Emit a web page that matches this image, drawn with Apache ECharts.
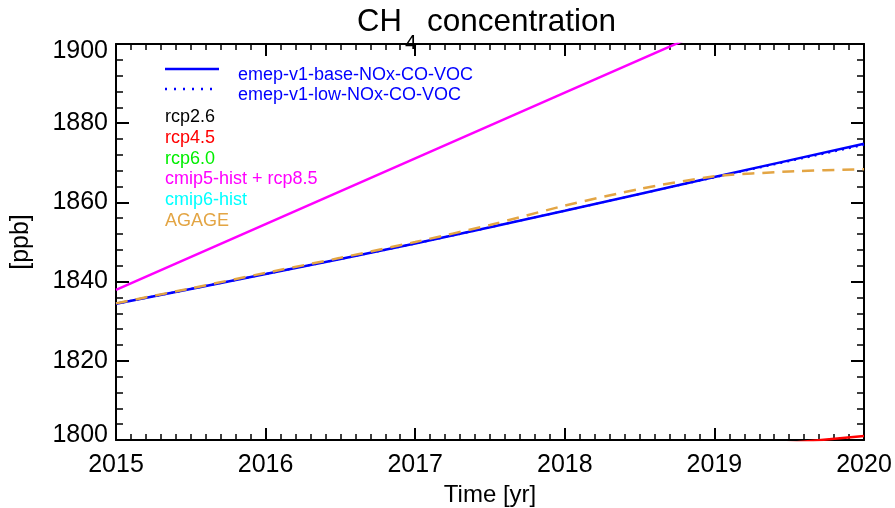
<!DOCTYPE html>
<html>
<head>
<meta charset="utf-8">
<title>CH4 concentration</title>
<script src="https://cdn.jsdelivr.net/npm/echarts@6.0.0/dist/echarts.min.js"></script>
<style>
  html, body { margin: 0; padding: 0; background: #fff; }
  #chart { width: 895px; height: 508px; }
</style>
</head>
<body>
<div id="chart"></div>
<script>
// yearly model output
const years = [2015, 2016, 2017, 2018, 2019, 2020]
const emepBase = [1834.4, 1841.9, 1849.6, 1857.9, 1866.4, 1874.8]
const emepLow = [1834.4, 1841.9, 1849.6, 1857.9, 1866.3, 1874.5]
const cmip5Rcp85 = [1837.9, 1854.5, 1871.1, 1887.7, 1904.3, 1920.9]
const rcp45 = [1787.0, 1789.5, 1792.0, 1794.7, 1797.5, 1801.0]

// AGAGE observations (half-yearly)
const agageYears = [2015, 2015.5, 2016, 2016.5, 2017, 2017.5, 2018, 2018.5, 2019, 2019.5, 2020]
const agage = [1834.5, 1838.3, 1842.2, 1846.0, 1850.0, 1854.3, 1859.2, 1863.4, 1866.6, 1867.8, 1868.4]

// legend rows without a visible line
const textOnlyNames = ['rcp2.6', 'rcp4.5', 'rcp6.0', 'cmip5-hist + rcp8.5', 'cmip6-hist', 'AGAGE']
const textOnlyColors = ['#000000', '#ff0000', '#00ee00', '#ff00ff', '#00ffff', '#e3a544']

const pairs = (xs, ys) => xs.map((x, i) => [x, ys[i]])

const FONT = 'Liberation Sans, Arial, sans-serif'
const BLUE = '#0000ff'

const chartInstance = echarts.init(document.getElementById('chart'))

const tickStyle = { color: '#000', width: 2 }

const baseX = {
  type: 'value',
  min: 2015,
  max: 2020,
  interval: 1,
  axisLine: { show: true, onZero: false, lineStyle: tickStyle },
  axisTick: { show: true, inside: true, length: 12, lineStyle: tickStyle },
  minorTick: { show: true, splitNumber: 10, length: 6, lineStyle: { color: '#000', width: 1.5 } },
  splitLine: { show: false },
  minorSplitLine: { show: false }
}

const baseY = {
  type: 'value',
  min: 1800,
  max: 1900,
  interval: 20,
  axisLine: { show: true, onZero: false, lineStyle: tickStyle },
  axisTick: { show: true, inside: true, length: 13, lineStyle: tickStyle },
  minorTick: { show: true, splitNumber: 5, length: 7, lineStyle: { color: '#000', width: 1.5 } },
  splitLine: { show: false },
  minorSplitLine: { show: false }
}

// end labels sit a little inside the box, like the IDL plot
const yLabelFormatter = (v) => {
  if (v === 1900) return '{hi|' + v + '}'
  if (v === 1800) return '{lo|' + v + '}'
  return String(v)
}

const legendGraphics = []
// line rows
legendGraphics.push({
  type: 'line', shape: { x1: 165, y1: 69, x2: 219, y2: 69 },
  style: { stroke: BLUE, lineWidth: 2.5 }
})
legendGraphics.push({
  type: 'line', shape: { x1: 165, y1: 89, x2: 219, y2: 89 },
  style: { stroke: BLUE, lineWidth: 2.5, lineDash: [2, 7] }
})
legendGraphics.push({
  type: 'text', x: 238, y: 75,
  style: { text: 'emep-v1-base-NOx-CO-VOC', fill: BLUE, font: '18px ' + FONT, verticalAlign: 'middle' }
})
legendGraphics.push({
  type: 'text', x: 238, y: 95,
  style: { text: 'emep-v1-low-NOx-CO-VOC', fill: BLUE, font: '18px ' + FONT, verticalAlign: 'middle' }
})
textOnlyNames.forEach((name, i) => {
  legendGraphics.push({
    type: 'text', x: 165, y: 117 + i * 20.8,
    style: { text: name, fill: textOnlyColors[i], font: '18px ' + FONT, verticalAlign: 'middle' }
  })
})

const option = {
  animation: false,
  backgroundColor: '#fff',
  textStyle: { fontFamily: FONT },
  grid: { left: 116, right: 31, top: 44, bottom: 68, outerBoundsMode: 'none', containLabel: false },
  xAxis: [
    Object.assign({}, baseX, {
      position: 'bottom',
      name: 'Time [yr]',
      nameLocation: 'middle',
      nameGap: 42,
      nameTextStyle: { fontSize: 24, color: '#000', fontFamily: FONT },
      axisLabel: { show: true, fontSize: 25, color: '#000', margin: 13, fontFamily: FONT, formatter: (v) => String(v) }
    }),
    Object.assign({}, baseX, {
      position: 'top',
      axisLabel: { show: false }
    })
  ],
  yAxis: [
    Object.assign({}, baseY, {
      position: 'left',
      name: '[ppb]',
      nameLocation: 'middle',
      nameGap: 82,
      nameTextStyle: { fontSize: 25, color: '#000', fontFamily: FONT },
      axisLabel: {
        show: true, fontSize: 25, color: '#000', margin: 8, fontFamily: FONT,
        formatter: yLabelFormatter,
        rich: {
          hi: { fontSize: 25, color: '#000', fontFamily: FONT, padding: [14, 0, 0, 0] },
          lo: { fontSize: 25, color: '#000', fontFamily: FONT, padding: [0, 0, 10, 0] }
        }
      }
    }),
    Object.assign({}, baseY, {
      position: 'right',
      axisLabel: { show: false }
    })
  ],
  graphic: [
    { type: 'text', x: 357, y: 22, style: { text: 'CH', fill: '#000', font: '31px ' + FONT, verticalAlign: 'middle' } },
    { type: 'text', x: 405, y: 43, style: { text: '4', fill: '#000', font: '21px ' + FONT, verticalAlign: 'middle' } },
    { type: 'text', x: 427, y: 22, style: { text: 'concentration', fill: '#000', font: '31.5px ' + FONT, verticalAlign: 'middle' } }
  ].concat(legendGraphics),
  series: [
    {
      name: 'cmip5-hist + rcp8.5',
      type: 'line',
      data: pairs(years, cmip5Rcp85),
      showSymbol: false,
      clip: true,
      lineStyle: { color: '#ff00ff', width: 2.5 }
    },
    {
      name: 'rcp4.5',
      type: 'line',
      data: pairs(years, rcp45),
      showSymbol: false,
      clip: true,
      lineStyle: { color: '#ff0000', width: 2.5 }
    },
    {
      name: 'emep-v1-base-NOx-CO-VOC',
      type: 'line',
      data: pairs(years, emepBase),
      showSymbol: false,
      smooth: 0.3,
      clip: true,
      lineStyle: { color: BLUE, width: 2.5 }
    },
    {
      name: 'emep-v1-low-NOx-CO-VOC',
      type: 'line',
      data: pairs(years, emepLow),
      showSymbol: false,
      smooth: 0.3,
      clip: true,
      lineStyle: { color: BLUE, width: 2, type: [2, 5] }
    },
    {
      name: 'AGAGE',
      type: 'line',
      data: pairs(agageYears, agage),
      showSymbol: false,
      smooth: 0.2,
      clip: true,
      lineStyle: { color: '#e3a544', width: 2.5, type: [12, 8] }
    }
  ]
}

chartInstance.setOption(option)
</script>
</body>
</html>
